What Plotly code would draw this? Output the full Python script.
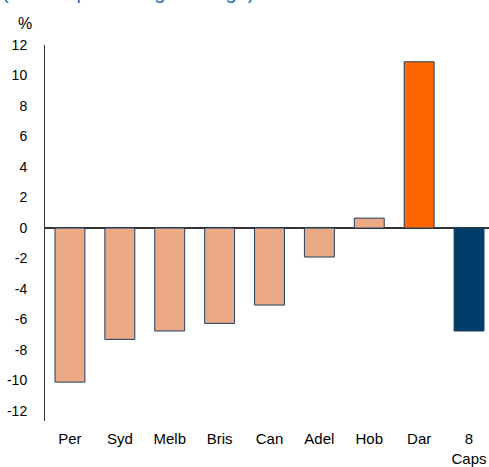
import plotly.graph_objects as go

categories = ["Per", "Syd", "Melb", "Bris", "Can", "Adel", "Hob", "Dar", "8<br>Caps"]
values = [-10.1, -7.3, -6.75, -6.25, -5.05, -1.9, 0.65, 10.9, -6.75]
colors = ["#EBA985"] * 7 + ["#FF6600", "#003D6B"]
tick_vals = list(range(-12, 13, 2))

fig = go.Figure()
fig.add_trace(go.Bar(
    x=list(range(len(categories))), y=values,
    marker=dict(color=colors, line=dict(color="#1F3F5F", width=1)),
    width=0.6,
))

fig.update_layout(
    width=489, height=467,
    margin=dict(l=45, r=0, t=45, b=42),
    paper_bgcolor="white", plot_bgcolor="white",
    showlegend=False,
    font=dict(family="Liberation Sans, Arial, sans-serif", size=14, color="#000000"),
    bargap=0.4,
)
fig.update_xaxes(
    range=[-0.5, 8.4],
    tickmode="array", tickvals=list(range(len(categories))), ticktext=categories,
    showgrid=False, zeroline=False, showline=False, ticks="",
    tickfont=dict(size=15), ticklabelstandoff=7,
)
fig.update_yaxes(
    range=[-12.65, 12.0],
    tickmode="array", tickvals=tick_vals, ticktext=[str(v) for v in tick_vals],
    showgrid=False, zeroline=True, zerolinecolor="#333333", zerolinewidth=1.5,
    showline=True, linecolor="#333333", linewidth=1, ticks="",
    ticklabelstandoff=14,
    tickfont=dict(size=14),
)
fig.add_annotation(
    text="(Annual percentage change)", xref="paper", yref="paper",
    x=-45/444, y=(425 - 4.5) / 380, xanchor="left", yanchor="bottom",
    showarrow=False, font=dict(size=20, color="#2A6EBB"),
)
fig.add_annotation(
    text="%", xref="paper", yref="paper",
    x=-29/444, y=(425 - 23) / 380, xanchor="left", yanchor="middle",
    showarrow=False, font=dict(size=16, color="#000000"),
)

fig.write_html("out.html", config={"displayModeBar": False},
               post_script="document.body.style.margin='0';document.body.style.overflow='hidden';")
